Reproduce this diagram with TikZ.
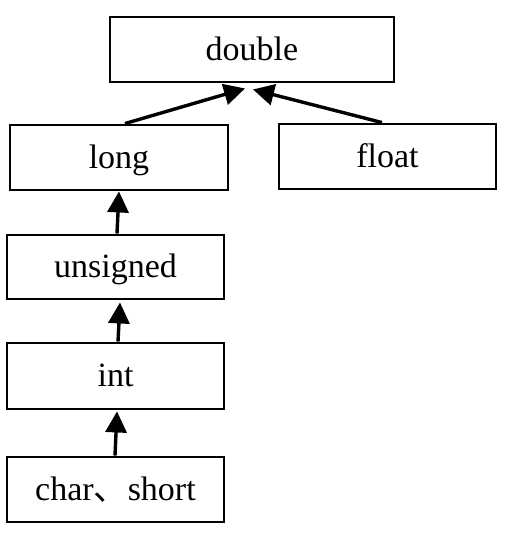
\documentclass[tikz,border=0pt]{standalone}
\usepackage{fontspec}
\setmainfont{Liberation Serif}
\newfontfamily\cjk{Noto Sans CJK SC}
\usetikzlibrary{arrows.meta}
\begin{document}
\begin{tikzpicture}[x=1pt,y=1pt,
  typebox/.style={draw, line width=2.9pt, inner sep=0pt, text height=21pt, text depth=0pt,
    font=\fontsize{34}{37}\selectfont},
  conv/.style={line width=3.4pt, -{Triangle[length=21pt,width=21pt]}}]
\useasboundingbox (0,0) rectangle (506,-533);
% type boxes
\node[typebox, minimum width=284pt, minimum height=65pt] (double)   at (252,-49.5)   {double};
\node[typebox, minimum width=218pt, minimum height=65pt] (long)     at (119,-157.5)  {long};
\node[typebox, minimum width=217pt, minimum height=65pt] (float)    at (387.5,-156.5){float};
\node[typebox, minimum width=217pt, minimum height=64pt] (unsigned) at (115.5,-267)  {unsigned};
\node[typebox, minimum width=217pt, minimum height=66pt] (int)      at (115.5,-376)  {int};
\node[typebox, minimum width=217pt, minimum height=65pt] (char)     at (115.5,-489.5){char{\cjk 、}short};
% arrow targets below double
\coordinate (dl) at ([xshift=-7pt,yshift=-5pt]double.south);
\coordinate (dr) at ([xshift=1pt,yshift=-6pt]double.south);
% conversions
\draw[conv] ([xshift=6pt]long.north) -- (dl);
\draw[conv] ([xshift=-5.5pt]float.north) -- (dr);
\draw[conv] ([xshift=1.5pt]unsigned.north) -- ([xshift=0pt]long.south);
\draw[conv] ([xshift=2.5pt]int.north) -- ([xshift=4.5pt,yshift=-2pt]unsigned.south);
\draw[conv] ([xshift=-0.5pt]char.north) -- ([xshift=1.5pt,yshift=-1pt]int.south);
\end{tikzpicture}
\end{document}
